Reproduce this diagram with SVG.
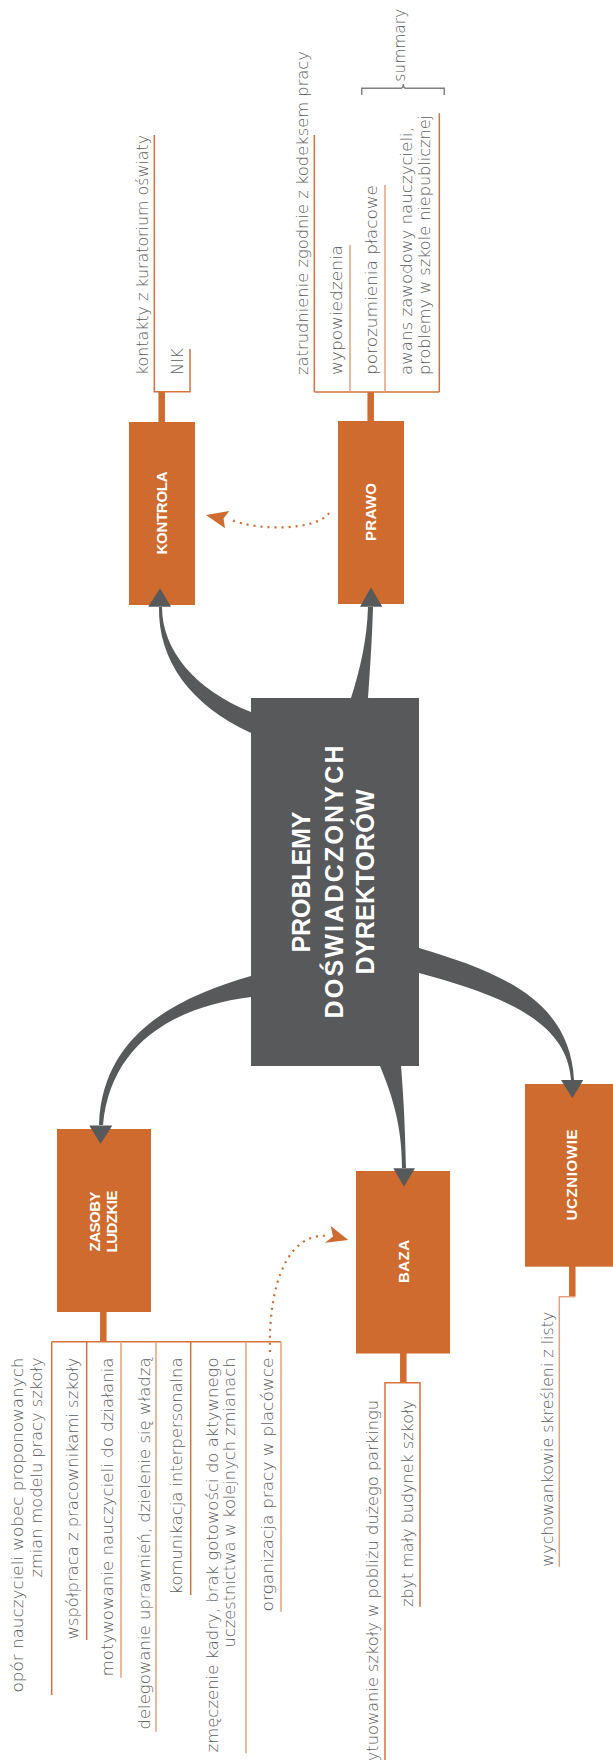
<svg xmlns="http://www.w3.org/2000/svg" width="613" height="1760" viewBox="0 0 613 1760">
<style>
.root{fill:#58595b}
.topic{fill:#cf6b2e}
.lbl{font-family:"Liberation Sans",Arial,sans-serif;font-weight:bold;fill:#ffffff;text-anchor:middle}
.sub{font-family:"DejaVu Sans","Liberation Sans",sans-serif;font-size:15px;font-weight:200;fill:#5c5d60}
.end{text-anchor:end}
.stem{stroke:#cf6b2e;stroke-width:6.5;fill:none}
.ln{stroke:#d5733b;stroke-width:1.5;fill:none}
.ln2{stroke:#e6a27c;stroke-width:1.5;fill:none}
.tap{fill:#58595b}
.dot{stroke:#cf6b2e;stroke-width:2.2;stroke-dasharray:2 5;fill:none}
.dhead{fill:#cf6b2e}
.brace{stroke:#808080;stroke-width:1.5;fill:none}
</style>
<rect width="613" height="1760" fill="#ffffff"/>

<!-- central topic -->
<g id="root">
  <rect class="root" x="251" y="698" width="168" height="368"/>
  <g transform="rotate(-90)">
    <text class="lbl" font-size="25" x="-882" y="310" textLength="141">PROBLEMY</text>
    <text class="lbl" font-size="25" x="-882" y="342.5" textLength="273">DOŚWIADCZONYCH</text>
    <text class="lbl" font-size="25" x="-882" y="373.5" textLength="185">DYREKTORÓW</text>
  </g>
</g>

<!-- KONTROLA -->
<g id="kontrola">
  <line class="stem" x1="161.7" y1="391.7" x2="161.7" y2="423"/>
  <rect class="topic" x="129" y="422" width="66" height="183"/>
  <polyline class="ln" points="154.3,135 154.3,391.7 190,391.7 190,349"/>
  <g transform="rotate(-90)">
    <text class="lbl" font-size="15" x="-513" y="166.5" textLength="83">KONTROLA</text>
    <text class="sub" x="-375" y="148.3" textLength="240" lengthAdjust="spacingAndGlyphs">kontakty z kuratorium oświaty</text>
    <text class="sub" x="-375" y="183" textLength="27" lengthAdjust="spacingAndGlyphs">NIK</text>
  </g>
</g>

<!-- PRAWO -->
<g id="prawo">
  <line class="stem" x1="370.7" y1="392" x2="370.7" y2="422"/>
  <rect class="topic" x="338" y="421" width="66" height="183"/>
  <line class="ln" x1="314.3" y1="392" x2="439.3" y2="392"/>
  <line class="ln" x1="314.3" y1="392" x2="314.3" y2="135"/>
  <line class="ln2" x1="350" y1="392" x2="350" y2="245"/>
  <line class="ln2" x1="385" y1="392" x2="385" y2="185"/>
  <line class="ln" x1="439.3" y1="392" x2="439.3" y2="113.3"/>
  <path class="brace" d="M361.7,95 L361.7,88.3 L400.5,88.3 Q403.3,88.3 403.3,84 Q403.3,88.3 406.1,88.3 L444.3,88.3 L444.3,95"/>
  <g transform="rotate(-90)">
    <text class="lbl" font-size="15" x="-512" y="376" textLength="58">PRAWO</text>
    <text class="sub" x="-375" y="308.3" textLength="324" lengthAdjust="spacingAndGlyphs">zatrudnienie zgodnie z kodeksem pracy</text>
    <text class="sub" x="-375" y="341.6" textLength="130" lengthAdjust="spacingAndGlyphs">wypowiedzenia</text>
    <text class="sub" x="-375" y="376.6" textLength="190" lengthAdjust="spacingAndGlyphs">porozumienia płacowe</text>
    <text class="sub" x="-375" y="411.6" textLength="248" lengthAdjust="spacingAndGlyphs">awans zawodowy nauczycieli,</text>
    <text class="sub" x="-375" y="430" textLength="260" lengthAdjust="spacingAndGlyphs">problemy w szkole niepublicznej</text>
    <text class="sub" x="-81.7" y="405" textLength="73" lengthAdjust="spacingAndGlyphs">summary</text>
  </g>
</g>

<!-- ZASOBY LUDZKIE -->
<g id="zasoby">
  <line class="stem" x1="103.3" y1="1311" x2="103.3" y2="1341.7"/>
  <rect class="topic" x="57" y="1129" width="94" height="183"/>
  <line class="ln" x1="51.7" y1="1341.7" x2="281" y2="1341.7"/>
  <line class="ln" x1="51.7" y1="1341.7" x2="51.7" y2="1695"/>
  <line class="ln" x1="86.7" y1="1341.7" x2="86.7" y2="1640"/>
  <line class="ln2" x1="121" y1="1341.7" x2="121" y2="1677.7"/>
  <line class="ln2" x1="156" y1="1341.7" x2="156" y2="1731.7"/>
  <line class="ln" x1="190.7" y1="1341.7" x2="190.7" y2="1595"/>
  <line class="ln2" x1="246" y1="1341.7" x2="246" y2="1753.3"/>
  <line class="ln2" x1="281" y1="1341.7" x2="281" y2="1611.7"/>
  <g transform="rotate(-90)">
    <text class="lbl" font-size="15" x="-1221.5" y="100" textLength="60">ZASOBY</text>
    <text class="lbl" font-size="15" x="-1221.5" y="117.3" textLength="62">LUDZKIE</text>
    <text class="sub end" x="-1357.5" y="23.3" textLength="335" lengthAdjust="spacingAndGlyphs">opór nauczycieli wobec proponowanych</text>
    <text class="sub end" x="-1357.5" y="41.5" textLength="220" lengthAdjust="spacingAndGlyphs">zmian modelu pracy szkoły</text>
    <text class="sub end" x="-1357.5" y="78.3" textLength="282" lengthAdjust="spacingAndGlyphs">współpraca z pracownikami szkoły</text>
    <text class="sub end" x="-1357.5" y="113.3" textLength="319" lengthAdjust="spacingAndGlyphs">motywowanie nauczycieli do działania</text>
    <text class="sub end" x="-1357.5" y="149.6" textLength="372" lengthAdjust="spacingAndGlyphs">delegowanie uprawnień, dzielenie się władzą</text>
    <text class="sub end" x="-1357.5" y="181.6" textLength="237" lengthAdjust="spacingAndGlyphs">komunikacja interpersonalna</text>
    <text class="sub end" x="-1357.5" y="218.3" textLength="395" lengthAdjust="spacingAndGlyphs">zmęczenie kadry, brak gotowości do aktywnego</text>
    <text class="sub end" x="-1357.5" y="234.6" textLength="290" lengthAdjust="spacingAndGlyphs">uczestnictwa w kolejnych zmianach</text>
    <text class="sub end" x="-1357.5" y="273.3" textLength="254" lengthAdjust="spacingAndGlyphs">organizacja pracy w placówce</text>
  </g>
</g>

<!-- BAZA -->
<g id="baza">
  <line class="stem" x1="403.3" y1="1352.5" x2="403.3" y2="1382.7"/>
  <rect class="topic" x="356" y="1171" width="94" height="182.5"/>
  <polyline class="ln" points="385,1760 385,1382.7 420,1382.7 420,1606.7"/>
  <g transform="rotate(-90)">
    <text class="lbl" font-size="15" x="-1261.5" y="409" textLength="43">BAZA</text>
    <text class="sub end" x="-1400" y="378.3" textLength="380" lengthAdjust="spacingAndGlyphs">usytuowanie szkoły w pobliżu dużego parkingu</text>
    <text class="sub end" x="-1400" y="412.6" textLength="207" lengthAdjust="spacingAndGlyphs">zbyt mały budynek szkoły</text>
  </g>
</g>

<!-- UCZNIOWIE -->
<g id="uczniowie">
  <line class="stem" x1="572.3" y1="1266" x2="572.3" y2="1296.7"/>
  <rect class="topic" x="525" y="1084" width="94" height="182.7"/>
  <polyline class="ln2" points="575,1296.7 559.3,1296.7 559.3,1566.7"/>
  <g transform="rotate(-90)">
    <text class="lbl" font-size="15" x="-1175" y="577" textLength="91">UCZNIOWIE</text>
    <text class="sub end" x="-1311.7" y="553.3" textLength="255" lengthAdjust="spacingAndGlyphs">wychowankowie skreśleni z listy</text>
  </g>
</g>

<!-- connectors: tapered branches from the central topic, plus dotted relations -->
<g id="connectors">
  <path class="tap" d="M251,733 C190,705 158,660 159,607 L162,607 C162,650 195,690 251,712 Z"/>
  <polygon class="tap" points="148.3,606.7 171,606.7 160,588.3"/>

  <path class="tap" d="M351,698 C360,670 367,640 368,607 L373,607 C372,640 370,670 368,698 Z"/>
  <polygon class="tap" points="360,606.7 382.3,606.7 371,587.3"/>

  <path class="tap" d="M251,976 C175,998 102,1035 99,1125 L103,1125 C110,1050 165,1008 251,997 Z"/>
  <polygon class="tap" points="89.3,1125.5 112.3,1125.5 100.5,1144"/>

  <path class="tap" d="M380,1066 C392,1095 402,1125 402,1168 L406,1168 C405,1120 403,1090 401,1066 Z"/>
  <polygon class="tap" points="393.3,1168.3 415,1168.3 404,1186.7"/>

  <path class="tap" d="M419,948 C500,972 570,1000 574,1080 L571,1080 C567,1020 500,995 419,973 Z"/>
  <polygon class="tap" points="561,1080 583.3,1080 572.3,1098.3"/>

  <path class="dot" d="M329,513 C318,530 258,532 229,519"/>
  <polygon class="dhead" points="206,515 229.3,511 223.5,518.5 225,528.3"/>

  <path class="dot" d="M270,1352 C268,1280 290,1232 328,1236"/>
  <polygon class="dhead" points="348.3,1240 330.7,1226 333,1236.5 325,1242.7"/>
</g>
</svg>
